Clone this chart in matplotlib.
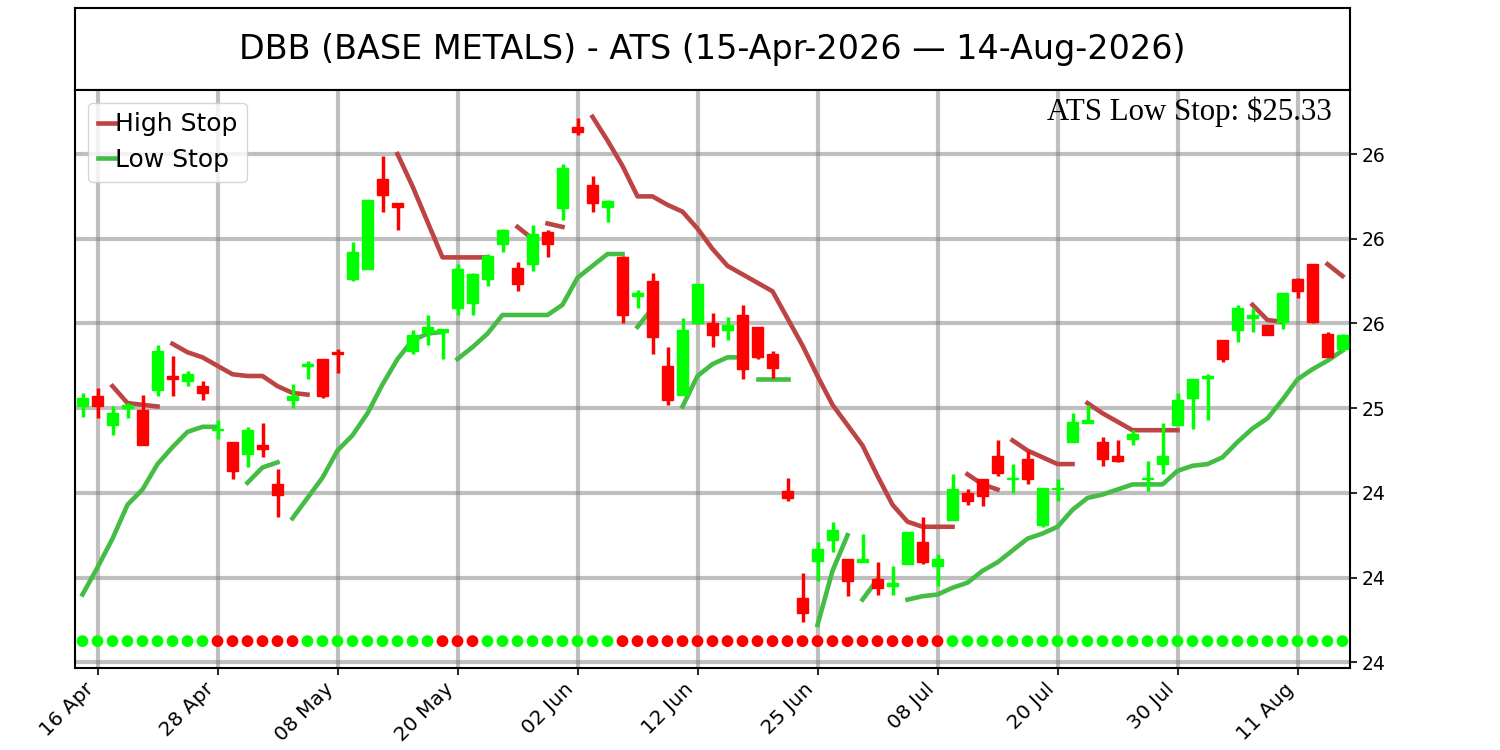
import matplotlib
matplotlib.use("Agg")
import matplotlib.pyplot as plt
from matplotlib.ticker import MultipleLocator, FormatStrFormatter, FixedLocator
import numpy as np
import pandas as pd

# trading days (NYSE holidays removed)
start_date = "2026-04-15"
end_date = "2026-08-14"
holidays = ["2026-05-25", "2026-06-19", "2026-07-03"]

# OHLC
opens = [25.01, 25.07, 24.90, 25.00, 24.99, 25.11, 25.19, 25.16, 25.13, 24.87,
         24.80, 24.73, 24.78, 24.55, 25.05, 25.25, 25.29, 25.33, 25.76, 25.82,
         26.35, 26.21, 25.34, 25.45, 25.45, 25.59, 25.62, 25.76, 25.97, 25.83,
         25.85, 26.04, 26.18, 26.66, 26.32, 26.19, 25.89, 25.66, 25.75, 25.25,
         25.08, 25.50, 25.50, 25.46, 25.55, 25.48, 25.32, 24.51, 23.88, 24.10,
         24.22, 24.11, 24.09, 23.99, 23.95, 24.08, 24.21, 24.07, 24.34, 24.50,
         24.58, 24.72, 24.58, 24.70, 24.31, 24.52, 24.80, 24.91, 24.80, 24.72,
         24.82, 24.58, 24.67, 24.90, 25.06, 25.18, 25.40, 25.46, 25.53, 25.49,
         25.51, 25.76, 25.85, 25.44, 25.35]
highs = [25.09, 25.12, 25.01, 25.03, 25.08, 25.37, 25.31, 25.22, 25.16, 24.93,
         24.80, 24.89, 24.91, 24.64, 25.14, 25.28, 25.29, 25.35, 25.98, 26.23,
         26.49, 26.21, 25.46, 25.55, 25.47, 25.85, 25.80, 25.91, 26.06, 25.86,
         26.08, 26.05, 26.44, 26.71, 26.37, 26.23, 25.90, 25.70, 25.80, 25.36,
         25.53, 25.73, 25.56, 25.54, 25.61, 25.48, 25.34, 24.59, 24.03, 24.21,
         24.33, 24.11, 24.26, 24.09, 24.07, 24.27, 24.36, 24.14, 24.61, 24.52,
         24.58, 24.81, 24.67, 24.75, 24.53, 24.58, 24.97, 25.02, 24.83, 24.81,
         24.87, 24.69, 24.91, 25.09, 25.17, 25.20, 25.40, 25.61, 25.59, 25.49,
         25.68, 25.77, 25.85, 25.45, 25.44]
lows = [24.95, 24.94, 24.84, 24.94, 24.78, 25.07, 25.07, 25.13, 25.05, 24.82,
        24.58, 24.65, 24.71, 24.36, 25.00, 25.17, 25.06, 25.21, 25.75, 25.82,
        26.16, 26.05, 25.32, 25.37, 25.29, 25.55, 25.55, 25.72, 25.92, 25.69,
        25.81, 25.89, 26.11, 26.61, 26.16, 26.10, 25.50, 25.59, 25.32, 25.02,
        25.08, 25.50, 25.36, 25.40, 25.17, 25.29, 25.18, 24.45, 23.74, 23.98,
        24.15, 23.89, 24.09, 23.90, 23.90, 24.08, 24.08, 23.95, 24.34, 24.43,
        24.42, 24.60, 24.50, 24.55, 24.30, 24.45, 24.80, 24.91, 24.66, 24.68,
        24.78, 24.51, 24.61, 24.90, 24.88, 24.93, 25.27, 25.39, 25.45, 25.43,
        25.47, 25.65, 25.50, 25.30, 25.34]
closes = [25.06, 25.01, 24.97, 25.02, 24.78, 25.34, 25.17, 25.20, 25.09, 24.88,
          24.63, 24.87, 24.76, 24.49, 25.07, 25.26, 25.07, 25.32, 25.92, 26.23,
          26.26, 26.19, 25.43, 25.48, 25.47, 25.82, 25.79, 25.90, 26.05, 25.73,
          26.03, 25.97, 26.42, 26.63, 26.21, 26.22, 25.55, 25.68, 25.42, 25.05,
          25.46, 25.73, 25.43, 25.49, 25.23, 25.30, 25.24, 24.47, 23.79, 24.17,
          24.28, 23.98, 24.11, 23.94, 23.97, 24.27, 24.09, 24.11, 24.52, 24.45,
          24.48, 24.62, 24.59, 24.58, 24.53, 24.53, 24.92, 24.93, 24.70, 24.69,
          24.85, 24.59, 24.72, 25.05, 25.17, 25.19, 25.29, 25.59, 25.55, 25.43,
          25.68, 25.69, 25.51, 25.30, 25.43]

# stop lines: (start bar index, values)
high_stop_segments = [
    (2, [25.13, 25.03, 25.02, 25.01]),
    (6, [25.38, 25.33, 25.30, 25.25, 25.20, 25.19, 25.19, 25.13, 25.09, 25.08]),
    (21, [26.50, 26.31, 26.10, 25.89, 25.89, 25.89, 25.89]),
    (29, [26.07, 26.00]),
    (31, [26.09, 26.07]),
    (34, [26.72, 26.58, 26.43, 26.25, 26.25, 26.20, 26.16, 26.06, 25.94, 25.84,
          25.79, 25.74, 25.69, 25.53, 25.37, 25.19, 25.02, 24.90, 24.78, 24.60,
          24.43, 24.33, 24.30, 24.30, 24.30]),
    (59, [24.61, 24.55, 24.52]),
    (62, [24.81, 24.75, 24.71, 24.67, 24.67]),
    (67, [25.03, 24.97, 24.92, 24.87, 24.87, 24.87, 24.87]),
    (78, [25.61, 25.52, 25.51]),
    (83, [25.85, 25.78]),
]
low_stop_segments = [
    (0, [23.90, 24.06, 24.23, 24.43, 24.52, 24.67, 24.77, 24.86, 24.89, 24.89]),
    (11, [24.56, 24.65, 24.68]),
    (14, [24.35, 24.47, 24.59, 24.75, 24.84, 24.97, 25.14, 25.29, 25.40, 25.44, 25.45]),
    (25, [25.29, 25.36, 25.44, 25.55, 25.55, 25.55, 25.55, 25.61, 25.77, 25.84,
          25.91, 25.91]),
    (37, [25.48, 25.59]),
    (40, [25.01, 25.19, 25.26, 25.30, 25.30]),
    (45, [25.17, 25.17, 25.17]),
    (49, [23.72, 24.04, 24.25]),
    (52, [23.87, 23.99]),
    (55, [23.87, 23.89, 23.90, 23.94, 23.97, 24.04, 24.09, 24.16, 24.23, 24.26,
          24.30, 24.40, 24.47, 24.49, 24.52, 24.55, 24.55, 24.55, 24.63, 24.66,
          24.67, 24.71, 24.80, 24.88, 24.94, 25.05, 25.17, 25.23, 25.28, 25.34]),
]

# ATS state per bar: 1 = long (green), 0 = short (red)
ats_state = [1, 1, 1, 1, 1, 1, 1, 1, 1,
             0, 0, 0, 0, 0, 0,
             1, 1, 1, 1, 1, 1, 1, 1, 1,
             0, 0, 0,
             1, 1, 1, 1, 1, 1, 1, 1, 1,
             0, 0, 0, 0, 0, 0, 0, 0, 0, 0, 0, 0, 0, 0, 0, 0, 0, 0, 0, 0, 0, 0,
             1, 1, 1, 1, 1, 1, 1, 1, 1, 1, 1, 1, 1, 1, 1, 1, 1, 1, 1, 1, 1, 1,
             1, 1, 1, 1, 1]
ats_low_stop = 25.33

dates = pd.bdate_range(start_date, end_date, freq="C", holidays=holidays)
x = np.arange(len(dates))

fig = plt.figure(figsize=(15, 7.5), dpi=100)

# title box
ax_t = fig.add_axes([0.05, 0.88, 0.85, 0.109])
ax_t.set_xticks([])
ax_t.set_yticks([])
for s in ax_t.spines.values():
    s.set_linewidth(1.5)
ax_t.text(0.5, 0.5, "DBB (BASE METALS) - ATS (15-Apr-2026 \u2014 14-Aug-2026)",
          ha="center", va="center", fontsize=24, transform=ax_t.transAxes)

ax = fig.add_axes([0.05, 0.1097, 0.85, 0.7703])
ax.set_axisbelow(True)
ax.grid(True, color="gray", alpha=0.5, linewidth=3)

# stop lines
hs_color = "#bd4444"
ls_color = "#44bd44"
for k, (s, vals) in enumerate(high_stop_segments):
    ax.plot(np.arange(s, s + len(vals)), vals, color=hs_color, lw=3.3,
            label="High Stop" if k == 0 else None, zorder=2)
for k, (s, vals) in enumerate(low_stop_segments):
    ax.plot(np.arange(s, s + len(vals)), vals, color=ls_color, lw=3.3,
            label="Low Stop" if k == 0 else None, zorder=2)

# candles
o = np.array(opens)
c = np.array(closes)
cols = np.where(c >= o, "#00ff00", "#ff0000")
ax.vlines(x, lows, highs, colors=cols, lw=2.5, zorder=3)
ax.bar(x, c - o, bottom=o, width=0.7, color=cols, edgecolor=cols, lw=1, zorder=3)

# state dots
dot_cols = ["#00ff00" if v == 1 else "#ff0000" for v in ats_state]
ax.scatter(x, np.full(len(x), 23.625), c=dot_cols, s=72, zorder=3, linewidths=0)

ax.text(0.986, 0.948, f"ATS Low Stop: ${ats_low_stop:.2f}", transform=ax.transAxes,
        ha="right", va="baseline", fontsize=22.2, family="Liberation Serif")

ax.set_xlim(-0.5, len(x) - 0.5)
ax.set_ylim(23.468, 26.878)
ax.yaxis.tick_right()
ax.yaxis.set_major_locator(MultipleLocator(0.5))
ax.yaxis.set_major_formatter(FormatStrFormatter("%.0f"))

tick_idx = x[1::8]
ax.xaxis.set_major_locator(FixedLocator(tick_idx))
ax.set_xticklabels([dates[i].strftime("%d %b") for i in tick_idx],
                   rotation=45, ha="right")
ax.tick_params(axis="y", labelsize=13.5, length=5, width=1.2)
ax.tick_params(axis="x", labelsize=14.5, length=5, width=1.2)
for s in ax.spines.values():
    s.set_linewidth(1.5)

ax.legend(loc="upper left", fontsize=18, handlelength=0.7, handletextpad=0.0,
          borderpad=0.4, labelspacing=0.45)

fig.savefig("out.png", dpi=100)
